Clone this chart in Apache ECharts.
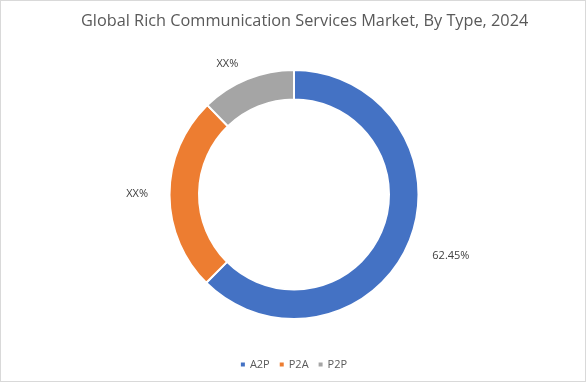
<!DOCTYPE html>
<html>
<head>
<meta charset="utf-8">
<script src="https://cdn.jsdelivr.net/npm/echarts@6/dist/echarts.min.js"></script>
<style>
html,body{margin:0;padding:0;background:#fff;}
#c{width:586px;height:382px;box-sizing:border-box;border:1px solid #d9d9d9;}
</style>
</head>
<body>
<div id="c"></div>
<script>
const categories = ['A2P', 'P2A', 'P2P'];
const values = [62.45, 25.3, 12.25];
const labelTexts = ['62.45%', 'XX%', 'XX%'];
const colors = ['#4472C4', '#ED7D31', '#A5A5A5'];

const labelCfg = [
  { len: 37, len2: -16, pad: [0, 0, 0, 0] },
  { len: 16.5, len2: 0, pad: [31, 0, 0, 0] },
  { len: 16, len2: -2, pad: [0, 0, 0, 0] }
];

const chart = echarts.init(document.getElementById('c'));
chart.setOption({
  animation: false,
  title: {
    text: 'Global Rich Communication Services Market, By Type, 2024',
    left: 75, top: 7,
    textStyle: { fontFamily: 'Open Sans', fontSize: 16.3, fontWeight: 'normal', color: '#595959' }
  },
  legend: {
    bottom: 6, left: 'center',
    itemWidth: 6, itemHeight: 6, itemGap: 8,
    icon: 'rect',
    textStyle: { fontFamily: 'Open Sans', fontSize: 11, color: '#595959', padding: [0, 0, 0, -1] },
    data: categories
  },
  series: [{
    type: 'pie',
    center: [293, 193.5],
    radius: [95, 124.5],
    startAngle: 90,
    clockwise: true,
    avoidLabelOverlap: false,
    itemStyle: { borderColor: '#fff', borderWidth: 2 },
    label: { show: true, position: 'outside', fontFamily: 'Open Sans', fontSize: 11, color: '#404040' },
    emphasis: { disabled: true },
    data: categories.map((c, i) => ({
      name: c,
      value: values[i],
      itemStyle: { color: colors[i] },
      label: { formatter: labelTexts[i], padding: labelCfg[i].pad },
      labelLine: { show: false, length: labelCfg[i].len, length2: labelCfg[i].len2 }
    }))
  }]
});
</script>
</body>
</html>
